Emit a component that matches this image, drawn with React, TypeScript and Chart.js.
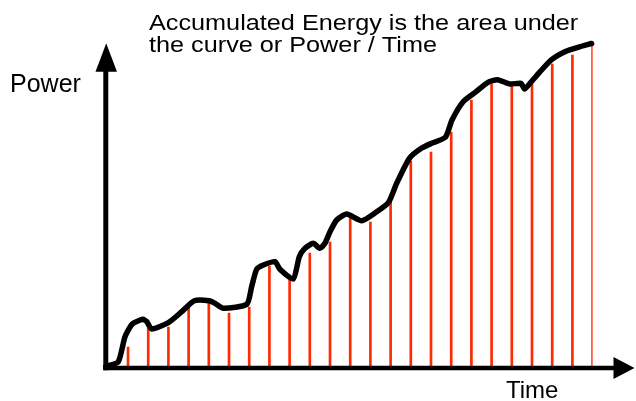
import React, { useEffect, useRef } from "react";
import { Chart, registerables } from "chart.js";

Chart.register(...registerables);

// Red sample lines: time steps and sampled power values
const sampleTimes = [1, 2, 3, 4, 5, 6, 7, 8, 9, 10, 11, 12, 13, 14, 15, 16, 17, 18, 19, 20, 21, 22, 23, 24];
const sampleValues = [2.1, 4.0, 4.1, 6.1, 6.5, 5.5, 6.1, 10.2, 9.0, 11.5, 12.6, 15.1, 14.6, 16.6, 20.7, 21.6, 23.6, 26.8, 28.4, 28.4, 28.4, 30.4, 31.3, 32.4];

// Power curve
const curveTimes = [-0.1, 0.52, 0.85, 1.21, 1.73, 1.93, 2.17, 3.0, 3.66, 4.28, 5.02, 5.31, 5.72, 6.88, 7.12, 7.37, 7.7, 8.28, 8.52, 9.18, 9.48, 9.76, 10.17, 10.5, 10.75, 11.0, 11.33, 11.83, 12.57, 13.23, 13.89, 14.3, 14.93, 15.52, 16.03, 16.71, 17.04, 17.59, 18.23, 18.82, 19.29, 19.91, 20.46, 20.63, 21.02, 21.4, 21.97, 22.68, 23.28, 23.95];
const curvePower = [0.15, 0.63, 3.13, 4.4, 4.87, 4.63, 3.9, 4.53, 5.63, 6.73, 6.73, 6.47, 5.97, 6.37, 8.13, 9.87, 10.3, 10.63, 9.87, 8.9, 11.13, 11.97, 12.47, 11.97, 12.47, 13.63, 14.8, 15.4, 14.73, 15.5, 16.53, 18.47, 20.97, 21.97, 22.47, 23.07, 24.8, 26.63, 27.63, 28.57, 28.83, 28.4, 28.47, 27.9, 28.75, 29.63, 30.83, 31.67, 32.07, 32.45];

const titleLines = ["Accumulated Energy is the area under", "the curve or Power / Time"];
const yLabel = "Power";
const xLabel = "Time";

const FONT = '"Liberation Sans", Arial, Helvetica, sans-serif';

const decorPlugin = {
  id: "decor",
  afterDatasetsDraw(chart: any) {
    const { ctx, chartArea } = chart;
    const left = chartArea.left;
    const bottom = chartArea.bottom;
    ctx.save();
    ctx.fillStyle = "#000";
    ctx.strokeStyle = "#000";
    // x axis line
    ctx.lineWidth = 4.5;
    ctx.beginPath();
    ctx.moveTo(left - 2.5, bottom);
    ctx.lineTo(614.5, bottom);
    ctx.stroke();
    // x arrowhead
    ctx.beginPath();
    ctx.moveTo(613.5, bottom - 11);
    ctx.lineTo(634.5, bottom);
    ctx.lineTo(613.5, bottom + 11);
    ctx.closePath();
    ctx.fill();
    // y axis line
    ctx.lineWidth = 5;
    ctx.beginPath();
    ctx.moveTo(left, bottom + 2.2);
    ctx.lineTo(left, 71);
    ctx.stroke();
    // y arrowhead
    ctx.beginPath();
    ctx.moveTo(left - 10.3, 71.7);
    ctx.lineTo(left + 0.4, 43.3);
    ctx.lineTo(left + 11.2, 71.7);
    ctx.closePath();
    ctx.fill();

    // texts
    ctx.textBaseline = "alphabetic";
    ctx.textAlign = "left";
    ctx.font = `22px ${FONT}`;
    const sx = 1.147;
    ctx.save();
    ctx.translate(149, 30);
    ctx.scale(sx, 1);
    ctx.fillText(titleLines[0], 0, 0);
    ctx.restore();
    ctx.save();
    ctx.translate(149, 51.7);
    ctx.scale(sx, 1);
    ctx.fillText(titleLines[1], 0, 0);
    ctx.restore();

    ctx.font = `25px ${FONT}`;
    ctx.fillText(yLabel, 10, 91.7);
    ctx.font = `24px ${FONT}`;
    ctx.fillText(xLabel, 506, 398.3);
    ctx.restore();
  },
};

export default function App() {
  const canvasRef = useRef<HTMLCanvasElement | null>(null);

  useEffect(() => {
    const canvas = canvasRef.current;
    if (!canvas) return;
    const chart = new Chart(canvas, {
      type: "bar",
      data: {
        datasets: [
          {
            type: "line",
            label: "Power",
            data: curveTimes.map((t, i) => ({ x: t, y: curvePower[i] })),
            borderColor: "#000",
            borderWidth: 5.5,
            pointRadius: 0,
            tension: 0.2,
            borderJoinStyle: "round",
            borderCapStyle: "round",
            fill: false,
            clip: false,
            order: 0,
          } as any,
          {
            type: "bar",
            label: "Samples",
            data: sampleTimes.map((t, i) => ({ x: t, y: sampleValues[i] })),
            backgroundColor: "#ff2a00",
            borderWidth: 0,
            barThickness: 2,
            order: 1,
          } as any,
        ],
      },
      options: {
        responsive: false,
        animation: false,
        devicePixelRatio: 1,
        layout: { padding: { left: 105.8, right: 43.4, top: 44, bottom: 33 } },
        plugins: {
          legend: { display: false },
          title: { display: false },
          tooltip: { enabled: false },
        },
        scales: {
          x: { type: "linear", min: -0.1, max: 24, display: false, offset: false },
          y: { type: "linear", min: 0, max: 32.4, display: false },
        },
      },
      plugins: [decorPlugin],
    });
    return () => chart.destroy();
  }, []);

  return (
    <div style={{ position: "absolute", left: 0, top: 0, width: 636, height: 401, background: "#fff" }}>
      <canvas ref={canvasRef} width={636} height={401} style={{ display: "block" }} />
    </div>
  );
}
